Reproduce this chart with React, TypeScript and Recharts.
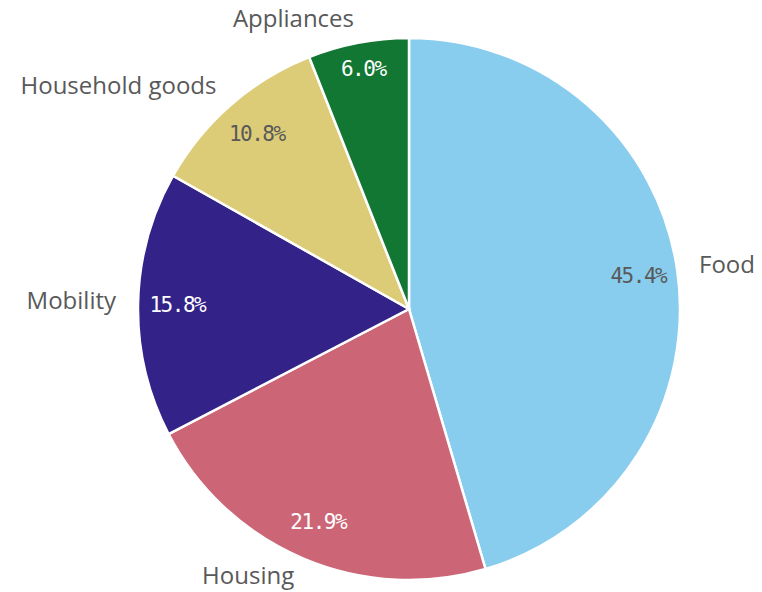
import React from 'react';
import { PieChart, Pie, Cell } from 'recharts';

const categories = ['Food', 'Housing', 'Mobility', 'Household goods', 'Appliances'];
const shares = [45.4, 21.9, 15.8, 10.8, 6.0];
const colors = ['#88CCEE', '#CC6677', '#332288', '#DDCC77', '#117733'];
const labelColors = ['#595959', '#ffffff', '#ffffff', '#595959', '#ffffff'];

const data = categories.map((name, i) => ({ name, value: shares[i] }));

const RADIAN = Math.PI / 180;

const renderLabel = (props: any) => {
  const { cx, cy, midAngle, outerRadius, index, percent } = props;
  const cos = Math.cos(-midAngle * RADIAN);
  const sin = Math.sin(-midAngle * RADIAN);
  const rIn = outerRadius * (percent < 0.08 ? 0.9 : 0.855);
  const rOut = outerRadius + 22;
  const xi = cx + rIn * cos;
  const yi = cy + rIn * sin;
  const xo = cx + rOut * cos;
  const yo = cy + rOut * sin - 4;
  return (
    <g>
      <text
        x={xi}
        y={yi}
        textAnchor="middle"
        dominantBaseline="central"
        fill={labelColors[index]}
        fontFamily="'DejaVu Sans Mono', monospace"
        fontSize={21}
        letterSpacing={-1.5}
      >
        {shares[index].toFixed(1) + '%'}
      </text>
      <text
        x={xo}
        y={yo}
        textAnchor={cos >= 0 ? 'start' : 'end'}
        dominantBaseline="central"
        fill="#595959"
        fontFamily="'Open Sans', sans-serif"
        fontSize={24}
      >
        {categories[index]}
      </text>
    </g>
  );
};

export default function App() {
  return (
    <div style={{ position: 'absolute', left: 0, top: 0, background: '#fff' }}>
      <PieChart width={762} height={592} margin={{ top: 0, right: 0, bottom: 0, left: 0 }}>
        <Pie
          data={data}
          dataKey="value"
          nameKey="name"
          cx={409}
          cy={309}
          outerRadius={271}
          startAngle={90}
          endAngle={-270}
          stroke="#ffffff"
          strokeWidth={2.5}
          label={renderLabel}
          labelLine={false}
          isAnimationActive={false}
        >
          {data.map((d, i) => (
            <Cell key={d.name} fill={colors[i]} />
          ))}
        </Pie>
      </PieChart>
    </div>
  );
}
